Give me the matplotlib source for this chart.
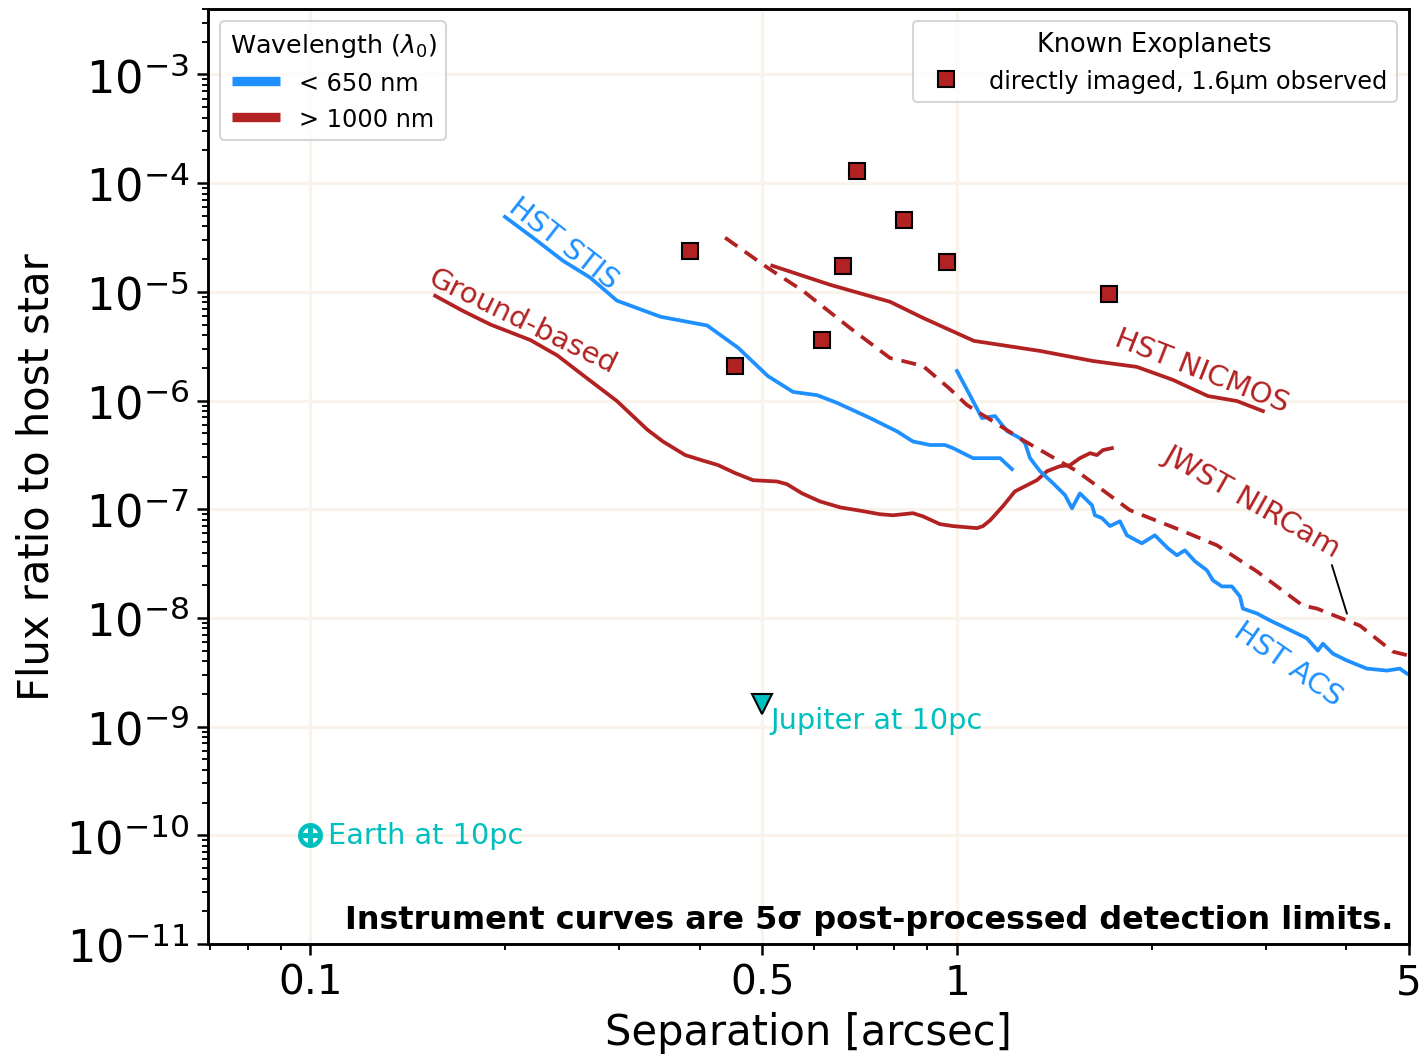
import matplotlib
matplotlib.use("Agg")
import matplotlib.pyplot as plt
from matplotlib.lines import Line2D

# contrast curves (separation [arcsec], flux ratio)
ground_sep = [0.156, 0.172, 0.190, 0.219, 0.241, 0.268, 0.298, 0.332, 0.351, 0.380,
              0.405, 0.427, 0.454, 0.484, 0.527, 0.546, 0.576, 0.614, 0.660, 0.716,
              0.760, 0.796, 0.855, 0.886, 0.941, 0.986, 1.074, 1.097, 1.125, 1.178,
              1.229, 1.329, 1.378, 1.443, 1.495, 1.549, 1.606, 1.646, 1.681, 1.736]
ground_flux = [9.2e-6, 6.7e-6, 5.0e-6, 3.6e-6, 2.6e-6, 1.6e-6, 9.9e-7, 5.4e-7, 4.2e-7, 3.15e-7,
               2.8e-7, 2.55e-7, 2.15e-7, 1.85e-7, 1.8e-7, 1.7e-7, 1.4e-7, 1.18e-7, 1.04e-7, 9.6e-8,
               9.0e-8, 8.8e-8, 9.2e-8, 8.6e-8, 7.3e-8, 7.0e-8, 6.7e-8, 7.0e-8, 7.9e-8, 1.07e-7,
               1.46e-7, 1.85e-7, 2.24e-7, 2.49e-7, 2.54e-7, 2.95e-7, 3.28e-7, 3.15e-7, 3.5e-7, 3.65e-7]

stis_sep = [0.200, 0.221, 0.246, 0.271, 0.298, 0.348, 0.411, 0.459, 0.510, 0.558, 0.608,
            0.653, 0.734, 0.808, 0.855, 0.909, 0.958, 0.986, 1.059, 1.166, 1.216]
stis_flux = [4.9e-5, 3.15e-5, 1.93e-5, 1.35e-5, 8.3e-6, 5.9e-6, 4.9e-6, 3.05e-6, 1.68e-6, 1.2e-6, 1.12e-6,
             9.5e-7, 6.9e-7, 5.2e-7, 4.2e-7, 3.9e-7, 3.9e-7, 3.65e-7, 2.95e-7, 2.95e-7, 2.34e-7]

acs_sep = [1.000, 1.047, 1.093, 1.145, 1.195, 1.251, 1.274, 1.297, 1.344, 1.407, 1.469,
           1.506, 1.549, 1.617, 1.634, 1.675, 1.724, 1.786, 1.831, 1.931, 2.023, 2.119,
           2.188, 2.251, 2.333, 2.435, 2.487, 2.568, 2.661, 2.738, 2.767, 2.909, 3.047,
           3.236, 3.475, 3.614, 3.679, 3.812, 4.007, 4.302, 4.619, 4.838, 4.961]
acs_flux = [1.87e-6, 1.12e-6, 6.9e-7, 7.2e-7, 5.24e-7, 4.51e-7, 4.06e-7, 2.95e-7, 2.24e-7, 1.74e-7, 1.35e-7,
            1.02e-7, 1.40e-7, 1.09e-7, 8.8e-8, 8.3e-8, 7.0e-8, 7.75e-8, 5.76e-8, 4.86e-8, 5.76e-8, 4.37e-8,
            3.77e-8, 4.19e-8, 3.32e-8, 2.74e-8, 2.22e-8, 1.95e-8, 1.95e-8, 1.58e-8, 1.22e-8, 1.10e-8, 9.5e-9,
            8.0e-9, 6.5e-9, 5.0e-9, 5.8e-9, 4.7e-9, 4.06e-9, 3.42e-9, 3.28e-9, 3.42e-9, 3.08e-9]

nicmos_sep = [0.518, 0.637, 0.788, 0.886, 1.062, 1.344, 1.623, 1.897, 2.157, 2.443, 2.709, 2.972]
nicmos_flux = [1.74e-5, 1.16e-5, 8.1e-6, 5.76e-6, 3.54e-6, 2.86e-6, 2.31e-6, 2.04e-6, 1.55e-6, 1.1e-6, 9.9e-7, 8.0e-7]

nircam_sep = [0.438, 0.510, 0.578, 0.683, 0.788, 0.825, 0.886, 0.975, 1.036, 1.097, 1.265,
              1.329, 1.533, 1.851, 2.235, 2.523, 2.909, 3.425, 3.601, 4.197, 4.719, 5.0]
nircam_flux = [3.15e-5, 1.66e-5, 1.02e-5, 4.66e-6, 2.46e-6, 2.31e-6, 2.08e-6, 1.28e-6, 9.1e-7, 7.35e-7, 4.32e-7,
               3.65e-7, 2.24e-7, 9.8e-8, 6.3e-8, 4.66e-8, 2.68e-8, 1.30e-8, 1.22e-8, 8.5e-9, 4.9e-9, 4.5e-9]

# known directly imaged planets
planet_sep = [0.387, 0.454, 0.619, 0.667, 0.700, 0.828, 0.965, 1.718]
planet_flux = [2.39e-5, 2.08e-6, 3.61e-6, 1.74e-5, 1.30e-4, 4.61e-5, 1.89e-5, 9.6e-6]

jupiter_sep, jupiter_flux = 0.5, 1.6e-9
earth_sep, earth_flux = 0.1, 1e-10

blue = "#1e90ff"
red = "#b22222"
cyan = "#00bfbf"

fig = plt.figure(figsize=(9.5, 7.0933), dpi=150)
ax = fig.add_axes([0.146, 0.1118, 0.8428, 0.8788])

ax.plot(ground_sep, ground_flux, color=red, lw=1.8)
ax.plot(stis_sep, stis_flux, color=blue, lw=1.8)
ax.plot(acs_sep, acs_flux, color=blue, lw=1.8)
ax.plot(nicmos_sep, nicmos_flux, color=red, lw=1.8)
ax.plot(nircam_sep, nircam_flux, color=red, lw=1.8, ls=(0, (4.0, 2.4)))

pl, = ax.plot(planet_sep, planet_flux, ls="none", marker="s", ms=7.5, mfc=red,
              mec="black", mew=1, label="directly imaged, 1.6\u00b5m observed")

ax.plot(jupiter_sep, jupiter_flux, marker="v", ms=10, mfc=cyan, mec="black", mew=1, ls="none")
ax.text(0.514, 1.16e-9, "Jupiter at 10pc", color=cyan, fontsize=13.8, ha="left", va="center")
ax.plot(earth_sep, earth_flux, marker=r"$\oplus$", ms=11, color=cyan, ls="none")
ax.text(0.1066, 1e-10, "Earth at 10pc", color=cyan, fontsize=13.8, ha="left", va="center")

# curve labels
lbl = dict(fontsize=14, ha="center", va="center", rotation_mode="anchor")
ax.text(0.246, 2.83e-5, "HST STIS", color=blue, rotation=-38, **lbl)
ax.text(0.2127, 5.41e-6, "Ground-based", color=red, rotation=-26, **lbl)
ax.text(2.391, 1.91e-6, "HST NICMOS", color=red, rotation=-21.5, **lbl)
ax.text(2.858, 1.19e-7, "JWST NIRCam", color=red, rotation=-29.5, **lbl)
ax.text(3.248, 3.81e-9, "HST ACS", color=blue, rotation=-35, **lbl)
ax.plot([3.80, 4.007], [3.05e-8, 1.10e-8], color="black", lw=0.9)

ax.text(0.9867, 0.026, "Instrument curves are 5\u03c3 post-processed detection limits.",
        transform=ax.transAxes, ha="right", va="center", fontsize=15.3, fontweight="bold")

ax.set_xscale("log")
ax.set_yscale("log")
ax.set_xlim(0.0695, 5)
ax.set_ylim(1e-11, 4e-3)
ax.set_xticks([0.1, 0.5, 1, 5])
ax.set_xticklabels(["0.1", "0.5", "1", "5"])
ax.tick_params(which="major", length=5.5, width=1.2)
ax.tick_params(axis="x", which="major", labelsize=19.5)
ax.tick_params(axis="y", which="major", labelsize=21.5)
ax.tick_params(which="minor", length=3, width=0.9)
ax.set_xlabel("Separation [arcsec]", fontsize=20)
ax.set_ylabel("Flux ratio to host star", fontsize=20)
ax.grid(True, which="major", color="#faf3ec", lw=1.5)
ax.set_axisbelow(True)
for s in ax.spines.values():
    s.set_linewidth(1.4)

wl_handles = [Line2D([], [], color=blue, lw=4.5, solid_capstyle="butt"),
              Line2D([], [], color=red, lw=4.5, solid_capstyle="butt")]
leg1 = ax.legend(wl_handles, ["< 650 nm", "> 1000 nm"], title=r"Wavelength ($\lambda_0$)",
                 loc="upper left", fontsize=11.5, title_fontsize=12.2)
ax.add_artist(leg1)
ax.legend(handles=[pl], title="Known Exoplanets", loc="upper right",
          fontsize=11.5, title_fontsize=12.3)

fig.savefig("out.png", dpi=150)
